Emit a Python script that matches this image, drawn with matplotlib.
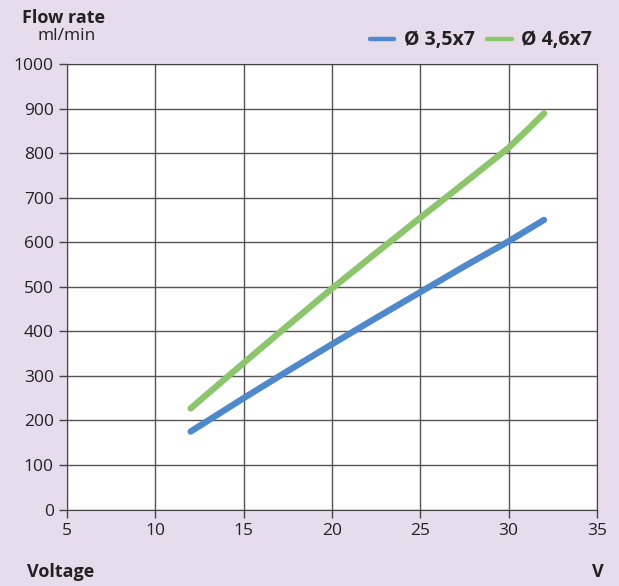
import matplotlib.pyplot as plt

# data
voltage = [12, 15, 17.5, 20, 22.5, 25, 27.5, 30, 31, 32]
flow_35 = [175, 250, 311, 371, 430, 488, 546, 602, 626, 650]
flow_46 = [227, 329, 413, 496, 576, 655, 733, 812, 850, 889]

bg = '#e6dcec'
blue = '#5089cb'
green = '#8dc56c'

plt.rcParams['font.family'] = ['Open Sans', 'DejaVu Sans']

fig = plt.figure(figsize=(6.19, 5.86), dpi=100, facecolor=bg)
ax = fig.add_axes([0.1082, 0.1305, 0.8562, 0.7603])
ax.set_facecolor('white')

ax.plot(voltage, flow_35, color=blue, lw=4.6, solid_capstyle='round', solid_joinstyle='round',
        label='Ø 3,5x7', zorder=3)
ax.plot(voltage, flow_46, color=green, lw=4.6, solid_capstyle='round', solid_joinstyle='round',
        label='Ø 4,6x7', zorder=3)

ax.set_xlim(5, 35)
ax.set_ylim(0, 1000)
ax.set_xticks(range(5, 36, 5))
ax.set_yticks(range(0, 1001, 100))
ax.grid(True, color='#555555', lw=1.0)
ax.tick_params(labelsize=12.5, length=6, color='#444444', width=1.0, labelcolor='#222222')
for s in ax.spines.values():
    s.set_color('#444444')

fig.text(0.036, 0.970, 'Flow rate', fontsize=13, fontweight='bold', color='#222222', va='center')
fig.text(0.06, 0.939, 'ml/min', fontsize=12.5, color='#222222', va='center')
fig.text(0.043, 0.024, 'Voltage', fontsize=13, fontweight='bold', color='#222222', va='center')
fig.text(0.975, 0.024, 'V', fontsize=13, fontweight='bold', color='#222222', va='center', ha='right')

leg = fig.legend(loc='center right', bbox_to_anchor=(0.985, 0.931), ncol=2, frameon=False,
                 handlelength=1.25, columnspacing=0.65, handletextpad=0.5,
                 prop={'size': 14, 'weight': 'bold'})
for t in leg.get_texts():
    t.set_color('#222222')
for h in leg.get_lines():
    h.set_linewidth(3.2)

fig.savefig('out.png', dpi=100, facecolor=bg)
